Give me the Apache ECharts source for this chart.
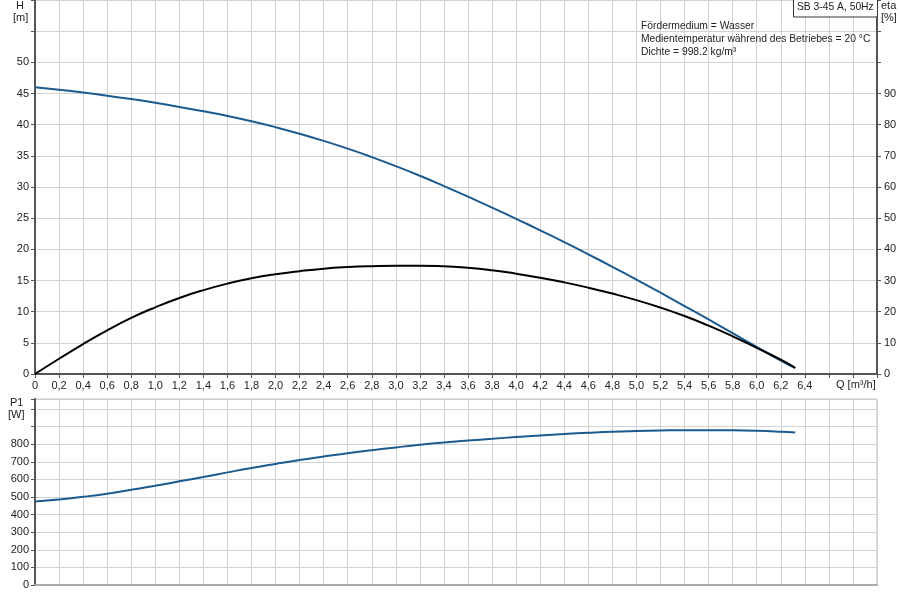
<!DOCTYPE html>
<html>
<head>
<meta charset="utf-8">
<script src="https://cdn.jsdelivr.net/npm/echarts@6/dist/echarts.min.js"></script>
<style>
html,body{margin:0;padding:0;background:#fff;}
#c{width:900px;height:600px;}
</style>
</head>
<body>
<div id="c"></div>
<script>
const Q   = [0,0.2,0.4,0.6,0.8,1.0,1.2,1.4,1.6,1.8,2.0,2.2,2.4,2.6,2.8,3.0,3.2,3.4,3.6,3.8,4.0,4.2,4.4,4.6,4.8,5.0,5.2,5.4,5.6,5.8,6.0,6.2,6.32];
const H   = [46.0,45.6,45.15,44.65,44.1,43.5,42.85,42.15,41.4,40.55,39.6,38.55,37.4,36.15,34.8,33.35,31.8,30.15,28.45,26.7,24.9,23.05,21.15,19.2,17.2,15.15,13.05,10.9,8.75,6.55,4.35,2.15,0.95];
const ETA = [0,4.9,9.6,14.0,18.0,21.4,24.4,26.9,29.0,30.7,32.0,33.0,33.8,34.3,34.6,34.75,34.75,34.55,34.1,33.3,32.2,30.9,29.4,27.7,25.8,23.7,21.3,18.6,15.5,12.1,8.4,4.6,2.0];
const P1  = [474,486,501,519,541,564,589,614,640,665,688,710,730,749,766,782,797,810,821,831,841,850,858,865,871,875,878,880,880,879,876,871,867];
const infoLines = ["Fördermedium = Wasser","Medientemperatur während des Betriebes = 20 °C","Dichte = 998.2 kg/m³"];
const title = "SB 3-45 A, 50Hz";

const FONT = "Liberation Sans";
const txt = {fontFamily: FONT, fontSize: 11, color: "#222"};
const gridLine = {show:true, lineStyle:{color:"#d2d2d2", width:1}};
const darkAxis = {show:true, lineStyle:{color:"#555", width:2}};

const pairs = (ys) => Q.map((q,i)=>[q, ys[i]]);

const chart = echarts.init(document.getElementById("c"), null, {renderer:"canvas"});
chart.setOption({
  animation:false,
  backgroundColor:"#fff",
  grid:[
    {left:35, right:23, top:0, height:374},
    {left:35, right:23, top:399, height:186, show:true, borderColor:"#bdbdbd", borderWidth:1, backgroundColor:"transparent"}
  ],
  xAxis:[
    {type:"value", gridIndex:0, min:0, max:7, interval:0.2,
     axisLine:darkAxis, axisTick:{show:true, length:4, lineStyle:{color:"#555"}},
     splitLine:gridLine,
     axisLabel:Object.assign({margin:6, formatter:(v)=> v>6.41 ? "" : (v===0 ? "0" : v.toFixed(1).replace(".",","))}, txt)},
    {type:"value", gridIndex:1, min:0, max:7, interval:0.2,
     axisLine:{show:true, lineStyle:{color:"#aaa", width:2}}, axisTick:{show:false},
     splitLine:gridLine, axisLabel:{show:false}}
  ],
  yAxis:[
    {type:"value", gridIndex:0, min:0, max:60, interval:5, position:"left",
     axisLine:darkAxis, axisTick:{show:true, length:4, lineStyle:{color:"#555"}},
     splitLine:gridLine,
     axisLabel:Object.assign({margin:6, formatter:(v)=> v>50 ? "" : String(v)}, txt)},
    {type:"value", gridIndex:0, min:0, max:120, interval:10, position:"right",
     axisLine:darkAxis, axisTick:{show:true, length:4, lineStyle:{color:"#555"}},
     splitLine:{show:false},
     axisLabel:Object.assign({margin:7, formatter:(v)=> v>90 ? "" : String(v)}, txt)},
    {type:"value", gridIndex:1, min:0, max:1057, interval:100, position:"left",
     axisLine:darkAxis, axisTick:{show:true, length:4, lineStyle:{color:"#555"}},
     splitLine:gridLine,
     axisLabel:Object.assign({margin:6, formatter:(v)=> v>800 ? "" : String(v)}, txt)}
  ],
  series:[
    {name:"H", type:"line", xAxisIndex:0, yAxisIndex:0, data:pairs(H), smooth:0.5, showSymbol:false,
     lineStyle:{color:"#1d5a8e", width:2}, z:3},
    {name:"eta", type:"line", xAxisIndex:0, yAxisIndex:1, data:pairs(ETA), smooth:0.5, showSymbol:false,
     lineStyle:{color:"#000", width:2}, z:3},
    {name:"P1", type:"line", xAxisIndex:1, yAxisIndex:2, data:pairs(P1), smooth:0.5, showSymbol:false,
     lineStyle:{color:"#1d5a8e", width:2}, z:3}
  ],
  graphic:[
    {type:"text", left:16, top:0, style:{text:"H", font:"11px "+FONT, fill:"#222"}},
    {type:"text", left:13, top:12, style:{text:"[m]", font:"11px "+FONT, fill:"#222"}},
    {type:"text", left:881, top:0, style:{text:"eta", font:"11px "+FONT, fill:"#222"}},
    {type:"text", left:881, top:12, style:{text:"[%]", font:"11px "+FONT, fill:"#222"}},
    {type:"text", left:10, top:397, style:{text:"P1", font:"11px "+FONT, fill:"#222"}},
    {type:"text", left:8, top:409, style:{text:"[W]", font:"11px "+FONT, fill:"#222"}},
    {type:"text", left:836, top:379, style:{text:"Q [m³/h]", font:"11px "+FONT, fill:"#222"}},
    {type:"rect", shape:{x:793.5, y:-1, width:84, height:18}, style:{fill:"#fff", stroke:"#333", lineWidth:1}, z:10},
    {type:"text", left:797, top:2, style:{text:title, font:"10.3px "+FONT, fill:"#222"}, z:11},
    {type:"text", left:641, top:21, style:{text:infoLines[0], font:"10.3px "+FONT, fill:"#222"}, z:11},
    {type:"text", left:641, top:34, style:{text:infoLines[1], font:"10.3px "+FONT, fill:"#222"}, z:11},
    {type:"text", left:641, top:47, style:{text:infoLines[2], font:"10.3px "+FONT, fill:"#222"}, z:11}
  ]
});
</script>
</body>
</html>
